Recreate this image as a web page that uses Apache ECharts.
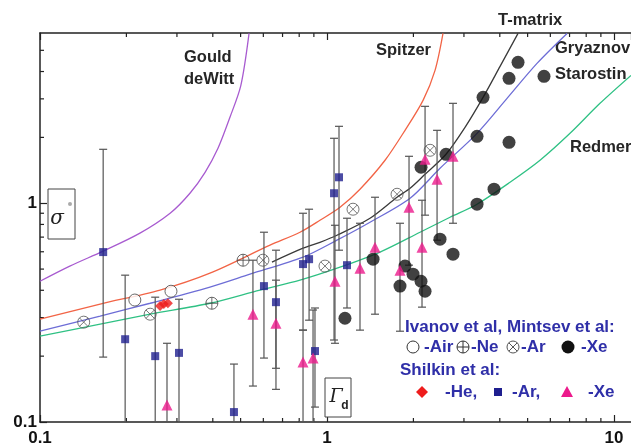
<!DOCTYPE html>
<html><head><meta charset="utf-8">
<script src="https://cdn.jsdelivr.net/npm/echarts@6/dist/echarts.min.js"></script>
<style>html,body{margin:0;padding:0;background:#fff}#c{width:631px;height:447px}</style>
</head><body><div id="c"></div>
<script>
// ---- axes ----
const X_MIN = 0.1, X_MAX = 11.46, Y_MIN = 0.1, Y_MAX = 6;
const xMinorTicks = [0.2,0.3,0.4,0.5,0.6,0.7,0.8,0.9,2,3,4,5,6,7,8,9];
const yMinorTicks = [0.2,0.3,0.4,0.5,0.6,0.7,0.8,0.9,2,3,4,5];

// ---- theory curves ----
const gouldX = [0.1,0.127,0.166,0.223,0.284,0.333,0.376,0.417,0.459,0.501,0.535];
const gouldY = [0.440,0.516,0.604,0.730,0.900,1.111,1.385,1.783,2.471,3.458,5.974];
const spitzerX = [0.1,0.162,0.262,0.391,0.633,0.805,0.945,1.110,1.303,1.593,1.870,2.161,2.379,2.536];
const spitzerY = [0.295,0.346,0.401,0.479,0.643,0.737,0.836,0.959,1.159,1.572,2.154,2.953,4.049,5.974];
const gryaznovX = [0.1,0.162,0.242,0.391,0.539,0.825,1.083,1.412,1.947,2.476,3.332,4.239,5.391,6.860];
const gryaznovY = [0.260,0.305,0.349,0.414,0.474,0.567,0.678,0.819,1.054,1.445,2.087,3.016,4.359,5.974];
const redmerX = [0.1,0.162,0.242,0.391,0.584,0.805,1.110,1.530,2.109,2.683,3.332,4.342,5.524,7.027,8.937,11.46];
const redmerY = [0.247,0.280,0.311,0.349,0.401,0.445,0.510,0.598,0.737,0.863,0.990,1.247,1.572,2.087,2.862,3.84];
const tmatrixX = [0.643,0.825,0.945,1.083,1.412,1.754,1.947,2.196,2.598,3.026,3.497,4.008,4.630];
const tmatrixY = [0.538,0.623,0.663,0.714,0.854,1.065,1.171,1.357,1.674,2.223,3.048,4.223,5.974];

// ---- Ivanov et al, Mintsev et al ----
const ivAirX = [0.214,0.286];
const ivAirY = [0.361,0.396];
const ivNeX = [0.397,0.510];
const ivNeY = [0.349,0.549];
const ivArX = [0.142,0.242,0.598,0.984,1.232,1.754,2.286];
const ivArY = [0.286,0.311,0.549,0.516,0.939,1.099,1.746];
const ivXeX = [1.155,1.447,1.796,1.870,1.994,2.126,2.196,2.476,2.748,2.126,2.598,3.332,3.819,3.332,3.497,4.307,4.307,4.630,5.703];
const ivXeY = [0.298,0.555,0.418,0.516,0.474,0.440,0.396,0.685,0.585,1.460,1.674,0.990,1.159,2.023,3.048,1.899,3.722,4.405,3.802];

// ---- Shilkin et al ----
const shHeX = [0.262,0.270,0.279];
const shHeY = [0.339,0.346,0.349];
const shArX  = [0.166,0.198,0.252,0.305,0.474,0.603,0.664,0.825,0.866,0.908,1.058,1.101,1.174];
const shArY  = [0.598,0.239,0.200,0.207,0.111,0.418,0.353,0.527,0.555,0.211,1.111,1.314,0.521];
const shArHi = [1.764,0.469,0.372,0.364,0.184,0.737,0.610,0.900,0.939,0.332,1.981,2.247,0.854];
const shArLo = [0.198,0.1,0.1,0.1,0.1,0.196,0.176,0.263,0.292,0.117,0.237,0.610,0.332];
const shXeX  = [0.277,0.552,0.664,0.825,0.894,1.066,1.303,1.470,1.796,1.931,2.143,2.196,2.418,2.748];
const shXeY  = [0.1196,0.311,0.283,0.188,0.196,0.440,0.505,0.630,0.494,0.959,0.630,1.588,1.287,1.639];
const shXeHi = [0.229,0.549,0.445,0.263,0.325,0.793,0.810,1.065,0.810,1.639,1.032,2.773,2.154,2.862];
const shXeLo = [0.1,0.146,0.141,0.1,0.1,0.229,0.263,0.311,0.260,0.521,0.335,0.882,0.678,0.810];

// ---- styling ----
const AXIS = '#222';
const FONT = '"Liberation Sans", Arial, sans-serif';
const LEG = '#2f2fa8';
const C_GOULD = '#a85bd0', C_SPITZER = '#f26446', C_GRYAZ = '#6d6dd6', C_REDMER = '#2fc184', C_TMAT = '#3a3a3a';
const C_SQ = '#1f1f8f', C_TRI = '#ec1a8c', C_HE = '#ee1c1c';

const pairs = (xs, ys) => xs.map((x, i) => [x, ys[i]]);
const PATH_CPLUS = 'path://M0,10A10,10 0 1,1 20,10A10,10 0 1,1 0,10ZM10,0L10,20M0,10L20,10';
const PATH_CX = 'path://M0,10A10,10 0 1,1 20,10A10,10 0 1,1 0,10ZM2.93,2.93L17.07,17.07M17.07,2.93L2.93,17.07';

function curve(name, xs, ys, color) {
  return { name, type: 'line', data: pairs(xs, ys), showSymbol: false, smooth: 0.3,
    lineStyle: { color, width: 1.3 }, z: 2, silent: true, clip: true };
}
function errSeries(xs, los, his) {
  return { type: 'custom', z: 3, silent: true, clip: true,
    data: xs.map((x, i) => [x, los[i], his[i]]),
    encode: { x: 0, y: [1, 2] },
    renderItem(params, api) {
      const lo = api.coord([api.value(0), api.value(1)]);
      const hi = api.coord([api.value(0), api.value(2)]);
      const st = { stroke: '#555', lineWidth: 1.2 };
      return { type: 'group', children: [
        { type: 'line', shape: { x1: lo[0], y1: lo[1], x2: hi[0], y2: hi[1] }, style: st },
        { type: 'line', shape: { x1: lo[0]-4, y1: lo[1], x2: lo[0]+4, y2: lo[1] }, style: st },
        { type: 'line', shape: { x1: hi[0]-4, y1: hi[1], x2: hi[0]+4, y2: hi[1] }, style: st }
      ]};
    }
  };
}
function scatter(xs, ys, symbol, size, itemStyle) {
  return { type: 'scatter', data: pairs(xs, ys), symbol, symbolSize: size, itemStyle, z: 5, silent: true };
}

const chart = echarts.init(document.getElementById('c'), null, { renderer: 'canvas', width: 631, height: 447 });

const axisCommon = {
  type: 'log', logBase: 10, splitLine: { show: false },
  axisLine: { show: true, lineStyle: { color: AXIS, width: 1.5 } },
  axisTick: { show: true, inside: true, length: 7, lineStyle: { color: AXIS, width: 1.2 } }
};
const labelStyle = { color: '#111', fontWeight: 'bold', fontSize: 17, fontFamily: FONT, showMaxLabel: false };

const txt = (text, x, y, font, fill, align) => ({
  type: 'text', x, y, silent: true,
  style: { text, font, fill, textAlign: align || 'left', textVerticalAlign: 'middle', verticalAlign: 'middle' }
});
const bold = (s) => 'bold ' + s + 'px ' + FONT;

const legendGraphics = [
  txt('Ivanov et al, Mintsev et al:', 405, 327, bold(17), LEG),
  { type: 'circle', shape: { cx: 413, cy: 347, r: 6 }, style: { fill: '#fff', stroke: '#333', lineWidth: 1 } },
  txt('-Air', 424, 347, bold(17), LEG),
  { type: 'group', children: [
    { type: 'circle', shape: { cx: 463, cy: 347, r: 6 }, style: { fill: 'none', stroke: '#333', lineWidth: 1 } },
    { type: 'line', shape: { x1: 457, y1: 347, x2: 469, y2: 347 }, style: { stroke: '#333', lineWidth: 1 } },
    { type: 'line', shape: { x1: 463, y1: 341, x2: 463, y2: 353 }, style: { stroke: '#333', lineWidth: 1 } } ] },
  txt('-Ne', 471, 347, bold(17), LEG),
  { type: 'group', children: [
    { type: 'circle', shape: { cx: 513, cy: 347, r: 6 }, style: { fill: 'none', stroke: '#555', lineWidth: 1 } },
    { type: 'line', shape: { x1: 508.8, y1: 342.8, x2: 517.2, y2: 351.2 }, style: { stroke: '#555', lineWidth: 1 } },
    { type: 'line', shape: { x1: 517.2, y1: 342.8, x2: 508.8, y2: 351.2 }, style: { stroke: '#555', lineWidth: 1 } } ] },
  txt('-Ar', 521, 347, bold(17), LEG),
  { type: 'circle', shape: { cx: 568, cy: 347, r: 6.5 }, style: { fill: '#111' } },
  txt('-Xe', 581, 347, bold(17), LEG),
  txt('Shilkin et al:', 400, 370, bold(17), LEG),
  { type: 'polygon', shape: { points: [[422,386],[428,392],[422,398],[416,392]] }, style: { fill: C_HE } },
  txt('-He,', 445, 392, bold(17), LEG),
  { type: 'rect', shape: { x: 494, y: 388, width: 8, height: 8 }, style: { fill: C_SQ } },
  txt('-Ar,', 512, 392, bold(17), LEG),
  { type: 'polygon', shape: { points: [[567,386],[573,397],[561,397]] }, style: { fill: C_TRI } },
  txt('-Xe', 588, 392, bold(17), LEG)
];

const labelGraphics = [
  txt('Gould', 184, 57, bold(16.5), '#262626'),
  txt('deWitt', 184, 79, bold(16.5), '#262626'),
  txt('Spitzer', 376, 50, bold(16.5), '#262626'),
  txt('T-matrix', 498, 20, bold(16.5), '#262626'),
  txt('Gryaznov', 555, 48, bold(16.5), '#262626'),
  txt('Starostin', 555, 74, bold(16.5), '#262626'),
  txt('Redmer', 570, 147, bold(16.5), '#262626'),
  // sigma box
  { type: 'rect', shape: { x: 48, y: 189, width: 27, height: 50 }, style: { fill: '#fff', stroke: '#444', lineWidth: 1 }, z: 10 },
  { type: 'text', x: 57, y: 219, z: 11, style: { text: 'σ', font: 'italic 20px "DejaVu Serif", serif', fill: '#222', textAlign: 'center', textVerticalAlign: 'middle', verticalAlign: 'middle' } },
  { type: 'circle', shape: { cx: 70, cy: 204, r: 2 }, style: { fill: '#aaa' }, z: 11 },
  // Gamma_d box
  { type: 'rect', shape: { x: 325, y: 378, width: 26, height: 39 }, style: { fill: '#fff', stroke: '#444', lineWidth: 1 }, z: 10 },
  { type: 'text', x: 336, y: 397, z: 11, style: { text: 'Γ', font: 'italic 19px "DejaVu Serif", serif', fill: '#222', textAlign: 'center', textVerticalAlign: 'middle', verticalAlign: 'middle' } },
  { type: 'text', x: 345, y: 406, z: 11, style: { text: 'd', font: bold(12), fill: '#222', textAlign: 'center', textVerticalAlign: 'middle', verticalAlign: 'middle' } }
];

chart.setOption({
  animation: false,
  backgroundColor: '#fff',
  grid: { left: 40, top: 33, right: 0, bottom: 25, containLabel: false },
  xAxis: [
    Object.assign({}, axisCommon, { min: X_MIN, max: X_MAX, position: 'bottom',
      axisLabel: Object.assign({ margin: 8 }, labelStyle) }),
    Object.assign({}, axisCommon, { min: X_MIN, max: X_MAX, position: 'top', axisLabel: { show: false } })
  ],
  yAxis: [
    Object.assign({}, axisCommon, { min: Y_MIN, max: Y_MAX, position: 'left',
      axisLabel: Object.assign({ margin: 3 }, labelStyle) })
  ],
  series: [
    // minor ticks (log scale) drawn through the axes
    { type: 'custom', silent: true, clip: false, z: 1, data: xMinorTicks.map(v => [v, Y_MIN]),
      renderItem(p, api) {
        const b = api.coord([api.value(0), Y_MIN]);
        const t = api.coord([api.value(0), Y_MAX]);
        const st = { stroke: AXIS, lineWidth: 1.2 };
        return { type: 'group', children: [
          { type: 'line', shape: { x1: b[0], y1: b[1], x2: b[0], y2: b[1]-4 }, style: st },
          { type: 'line', shape: { x1: t[0], y1: t[1], x2: t[0], y2: t[1]+4 }, style: st } ] };
      } },
    { type: 'custom', silent: true, clip: false, z: 1, data: yMinorTicks.map(v => [X_MIN, v]),
      renderItem(p, api) {
        const a = api.coord([X_MIN, api.value(1)]);
        return { type: 'line', shape: { x1: a[0], y1: a[1], x2: a[0]+4, y2: a[1] }, style: { stroke: AXIS, lineWidth: 1.2 } };
      } },
    curve('Gould deWitt', gouldX, gouldY, C_GOULD),
    curve('Spitzer', spitzerX, spitzerY, C_SPITZER),
    curve('Gryaznov Starostin', gryaznovX, gryaznovY, C_GRYAZ),
    curve('Redmer', redmerX, redmerY, C_REDMER),
    curve('T-matrix', tmatrixX, tmatrixY, C_TMAT),
    errSeries(shArX, shArLo, shArHi),
    errSeries(shXeX, shXeLo, shXeHi),
    scatter(ivAirX, ivAirY, 'circle', 12, { color: '#fff', borderColor: '#444', borderWidth: 1 }),
    scatter(ivNeX, ivNeY, PATH_CPLUS, 12, { color: 'rgba(255,255,255,0)', borderColor: '#444', borderWidth: 1 }),
    scatter(ivArX, ivArY, PATH_CX, 12, { color: 'rgba(255,255,255,0)', borderColor: '#555', borderWidth: 1 }),
    scatter(ivXeX, ivXeY, 'circle', 13, { color: '#111' }),
    scatter(shHeX, shHeY, 'diamond', 10, { color: C_HE }),
    scatter(shArX, shArY, 'rect', 8, { color: C_SQ }),
    scatter(shXeX, shXeY, 'triangle', 11, { color: C_TRI })
  ],
  graphic: { elements: legendGraphics.concat(labelGraphics) }
});
</script></body></html>
